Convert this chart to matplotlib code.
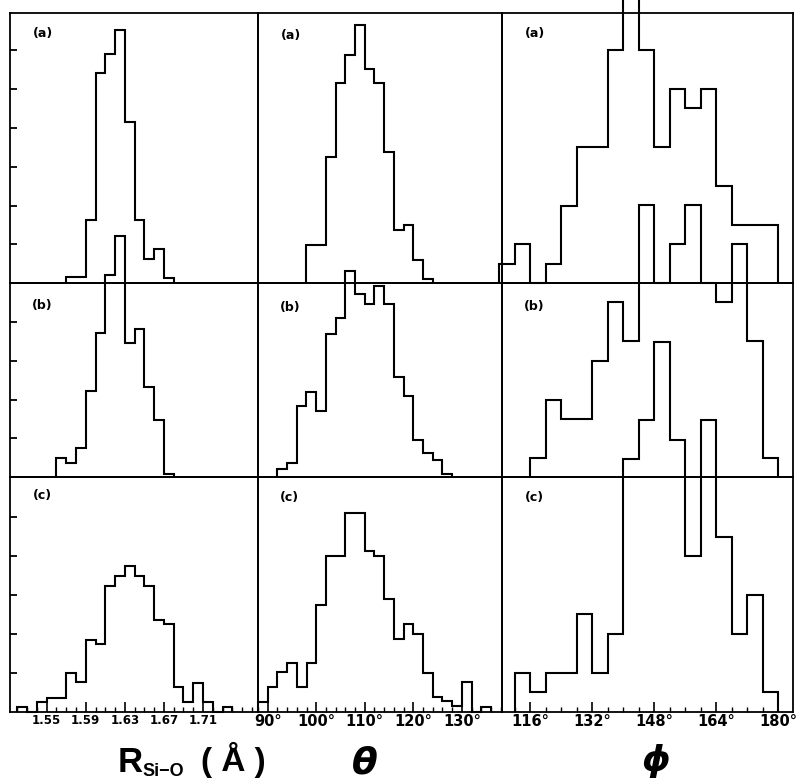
import numpy as np
import matplotlib
matplotlib.use("Agg")
import matplotlib.pyplot as plt

# ---------------- data (heights in y-tick units) ----------------
R_WIDTH = 0.01
R_A_START = 1.57
R_A = [0.15, 0.15, 1.62, 5.41, 5.89, 6.52, 4.14, 1.64, 0.63, 0.88, 0.13]
R_B_START = 1.56
R_B = [0.49, 0.36, 0.75, 2.23, 3.72, 5.22, 6.21, 3.46, 3.83, 2.33, 1.47, 0.08]
R_C_START = 1.52
R_C = [0.11, 0.0, 0.24, 0.35, 0.35, 1.00, 0.76, 1.85, 1.75, 3.24, 3.48, 3.74,
       3.48, 3.24, 2.36, 2.24, 0.63, 0.25, 0.74, 0.25, 0.0, 0.11]

T_WIDTH = 2.0
T_A_START = 98
T_A = [0.99, 0.99, 3.26, 5.15, 5.88, 6.64, 5.52, 5.15, 3.38, 1.36, 1.49, 0.59, 0.10]
T_B_START = 92
T_B = [0.21, 0.36, 1.83, 2.19, 1.70, 3.70, 4.09, 5.31, 4.71, 4.46, 4.93, 4.46,
       2.57, 2.08, 0.97, 0.62, 0.45, 0.09]
T_C_START = 88
T_C = [0.25, 0.64, 1.02, 1.25, 0.64, 1.25, 2.73, 3.99, 3.99, 5.12, 5.12, 4.12,
       3.99, 2.90, 1.86, 2.26, 1.99, 1.00, 0.38, 0.28, 0.14, 0.76, 0.0, 0.12]

P_WIDTH = 4.0
P_A_START = 108
P_A = [0.5, 1.0, 0.0, 0.5, 2.0, 3.5, 3.5, 6.0, 8.0, 6.0, 3.5, 5.0, 4.5, 5.0,
       2.5, 1.5, 1.5, 1.5]
P_B_START = 116
P_B = [0.5, 2.0, 1.5, 1.5, 3.0, 4.5, 3.5, 7.0, 5.0, 6.0, 7.0, 5.0, 4.5, 6.0,
       3.5, 0.5]
P_C_START = 112
P_C = [1.0, 0.5, 1.0, 1.0, 2.5, 1.0, 2.0, 6.5, 7.5, 9.5, 7.0, 4.0, 7.5, 4.5,
       2.0, 3.0, 0.5]

R_MAJOR = [1.55, 1.59, 1.63, 1.67, 1.71]
R_MAJOR_LABELS = ["1.55", "1.59", "1.63", "1.67", "1.71"]
T_MAJOR = [90, 100, 110, 120, 130]
T_MAJOR_LABELS = ["90°", "100°", "110°", "120°", "130°"]
P_MAJOR = [116, 132, 148, 164, 180]
P_MAJOR_LABELS = ["116°", "132°", "148°", "164°", "180°"]
PANEL_LABELS = ["(a)", "(b)", "(c)"]

# ---------------- layout ----------------
W, H = 798, 782
fig = plt.figure(figsize=(W / 100, H / 100), dpi=100)
fig.patch.set_facecolor("white")

COL_X = [10, 258, 502, 793]
ROW_Y = [13, 283.3, 477.3, 711.5]
PX_PER_UNIT = 38.85
XLIMS = [(1.5125, 1.7663), (88.03, 138.27), (108.7, 183.8)]

columns = [
    (R_WIDTH, [(R_A_START, R_A), (R_B_START, R_B), (R_C_START, R_C)]),
    (T_WIDTH, [(T_A_START, T_A), (T_B_START, T_B), (T_C_START, T_C)]),
    (P_WIDTH, [(P_A_START, P_A), (P_B_START, P_B), (P_C_START, P_C)]),
]
majors = [(R_MAJOR, R_MAJOR_LABELS, 8.5), (T_MAJOR, T_MAJOR_LABELS, 10.5),
          (P_MAJOR, P_MAJOR_LABELS, 10.5)]
minor_steps = [0.01, 2.0, 4.0]
minor_ranges = [(1.52, 1.76), (88, 138), (112, 182)]

LABEL_POS = [[(43, 33), (291, 35), (535, 33)],
             [(42, 306), (290, 308), (534, 307)],
             [(42, 496), (289, 498), (534, 498)]]

FONT = "Liberation Sans"
TICKFONT = "DejaVu Sans"

for r in range(3):
    for c in range(3):
        x0, x1 = COL_X[c], COL_X[c + 1]
        y0, y1 = ROW_Y[r], ROW_Y[r + 1]
        ax = fig.add_axes([x0 / W, 1 - y1 / H, (x1 - x0) / W, (y1 - y0) / H])
        ax.set_facecolor("none")
        width, panels = columns[c]
        start, vals = panels[r]
        edges = np.round(start + width * np.arange(len(vals) + 1), 4)
        ax.stairs(vals, edges, baseline=0, fill=False, color="black",
                  linewidth=1.5, clip_on=False, zorder=3)
        ax.set_xlim(*XLIMS[c])
        ax.set_ylim(0, (y1 - y0) / PX_PER_UNIT)
        for sp in ax.spines.values():
            sp.set_linewidth(1.3)
            sp.set_color("black")
        # y ticks
        if c == 0:
            n = int((y1 - y0) / PX_PER_UNIT + 0.05)
            ax.set_yticks(list(range(1, n)))
            ax.tick_params(axis="y", direction="in", length=5, width=1.3,
                           labelleft=False)
        else:
            ax.set_yticks([])
        # x ticks
        if r == 2:
            mj, lbls, fs = majors[c]
            ax.set_xticks(mj, lbls)
            lo, hi = minor_ranges[c]
            step = minor_steps[c]
            ax.set_xticks(np.round(np.arange(lo, hi + step / 2, step), 4), minor=True)
            ax.tick_params(axis="x", which="major", direction="in", length=7,
                           width=1.2, pad=2, labelsize=fs)
            ax.tick_params(axis="x", which="minor", direction="in", length=3.5,
                           width=1.0)
            for t in ax.get_xticklabels():
                t.set_fontfamily(TICKFONT)
                t.set_fontweight("bold")
        else:
            ax.set_xticks([])
        lx, ly = LABEL_POS[r][c]
        fig.text(lx / W, 1 - ly / H, PANEL_LABELS[r], fontsize=9,
                 fontweight="bold", family=TICKFONT, ha="center", va="center")

# ---------------- axis titles ----------------
fig.text(118 / W, 1 - 772 / H, "R", fontsize=25, fontweight="bold",
         family=FONT, ha="left", va="baseline")
fig.text(142 / W, 1 - 776 / H, "Si\u2212O", fontsize=13, fontweight="bold",
         family=FONT, ha="left", va="baseline")
fig.text(233 / W, 1 - 771 / H, "( Å )", fontsize=24, fontweight="bold",
         family=FONT, ha="center", va="baseline")
fig.text(365 / W, 1 - 764 / H, "θ", fontsize=27, fontweight="bold",
         fontstyle="italic", family="DejaVu Sans", ha="center", va="center")
fig.text(656 / W, 1 - 761 / H, "ϕ", fontsize=26, fontweight="bold",
         fontstyle="italic", family="DejaVu Sans", ha="center", va="center")

fig.savefig("out.png", dpi=100, facecolor="white")
